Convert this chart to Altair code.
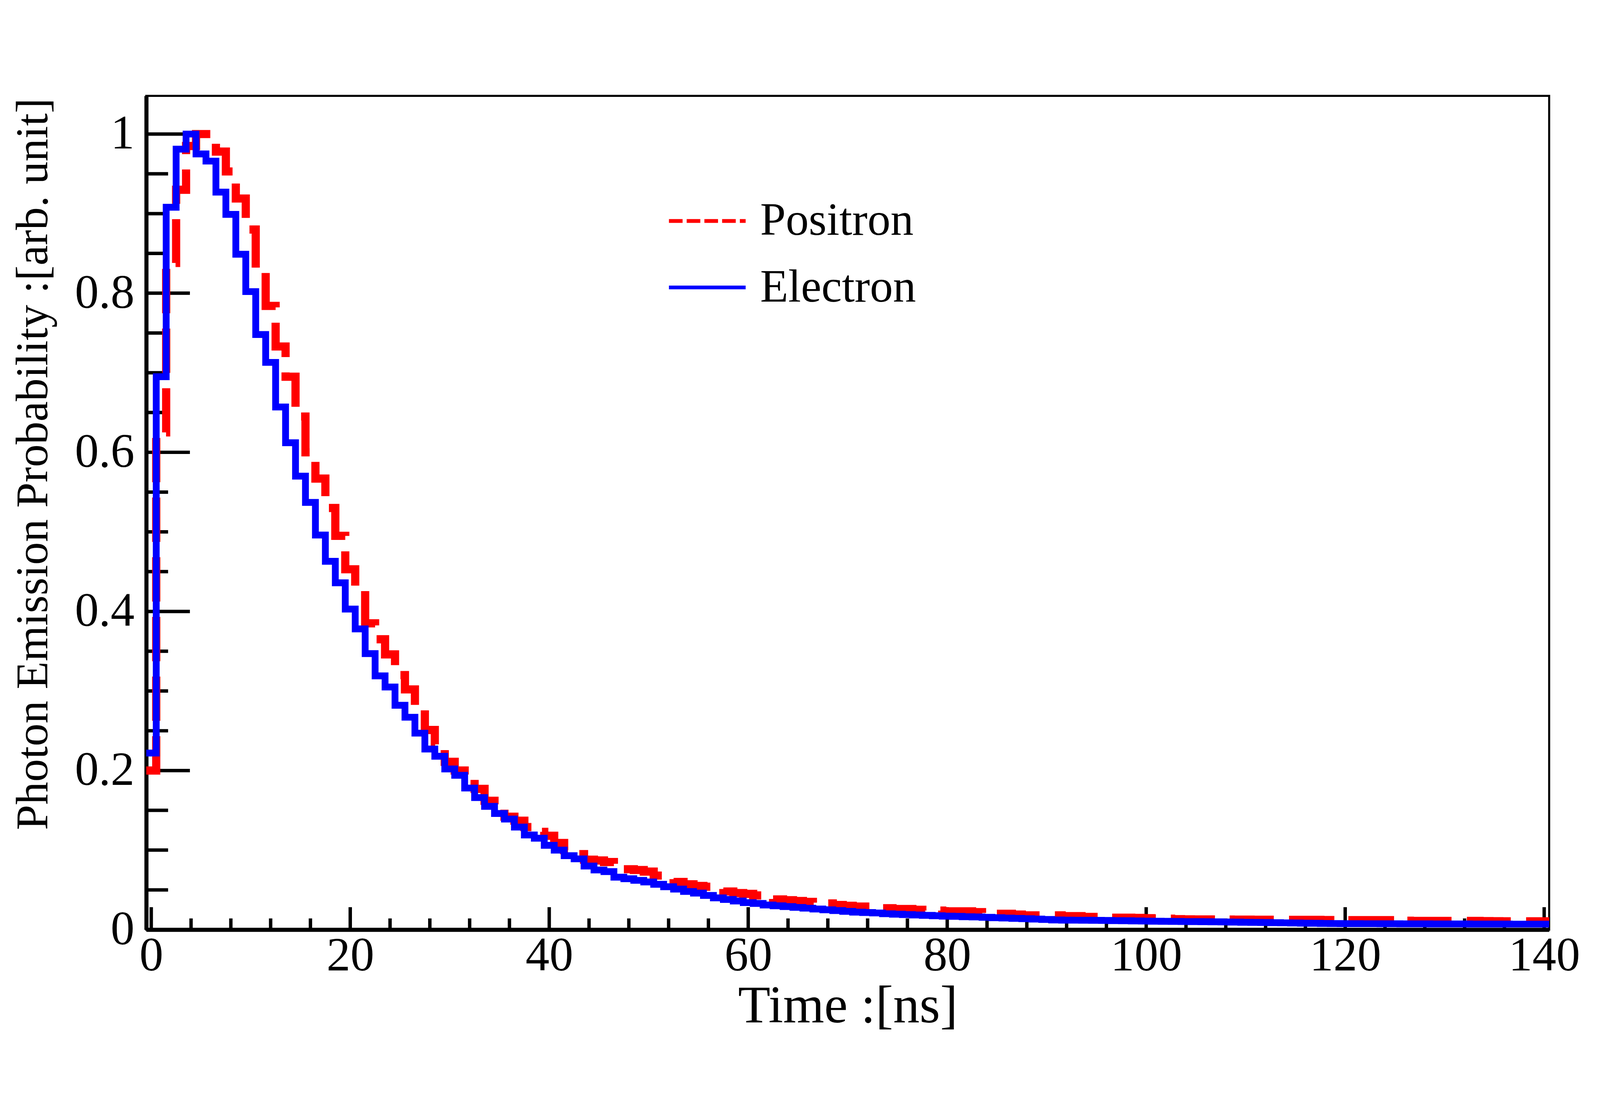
import altair as alt
import pandas as pd

FONT = "Liberation Serif"

SERIES = ["Positron", "Electron"]
COLORS = ["#ff0000", "#0000ff"]
LEGEND_DASHES = [[40, 12], [1, 0]]

# histogram bin centres (ns), bin width 1 ns
BIN_CENTERS = list(range(0, 141))
BIN_WIDTH = 1.0

POSITRON = [
    0.200, 0.625, 0.838, 0.930, 0.985, 1.000, 1.000, 0.978, 0.953, 0.919,
    0.880, 0.827, 0.784, 0.733, 0.695, 0.645, 0.600, 0.567, 0.530, 0.495,
    0.453, 0.426, 0.385, 0.365, 0.346, 0.320, 0.302, 0.282, 0.251, 0.233,
    0.211, 0.200, 0.190, 0.177, 0.162, 0.152, 0.142, 0.137, 0.129, 0.123,
    0.118, 0.109, 0.100, 0.095, 0.088, 0.087, 0.085, 0.080, 0.076, 0.075,
    0.073,
    0.068, 0.064, 0.060, 0.057, 0.055, 0.054, 0.052, 0.048, 0.046, 0.045,
    0.043, 0.040, 0.038, 0.037, 0.036, 0.035, 0.034, 0.033, 0.031, 0.030,
    0.029, 0.029, 0.028, 0.027, 0.026, 0.026, 0.025, 0.024, 0.024, 0.023,
    0.023, 0.023, 0.022, 0.021, 0.020, 0.020, 0.019, 0.018, 0.018, 0.018,
    0.018, 0.017, 0.017, 0.016, 0.016, 0.0155, 0.015, 0.015, 0.0148, 0.0145,
    0.0142, 0.0138, 0.0132, 0.013, 0.0128, 0.0128, 0.0127, 0.0127, 0.0126, 0.0126,
    0.0125, 0.0125, 0.0125, 0.0124, 0.0124, 0.0123, 0.0123, 0.0121, 0.012, 0.012,
    0.012, 0.012, 0.012, 0.012, 0.0115, 0.0112, 0.011, 0.011, 0.011, 0.011,
    0.011, 0.011, 0.011, 0.0108, 0.0106, 0.0105, 0.0105, 0.0105, 0.0105, 0.0105,
]

ELECTRON = [
    0.222, 0.695, 0.908, 0.981, 1.000, 0.975, 0.966, 0.927, 0.899, 0.849,
    0.802, 0.748, 0.713, 0.657, 0.612, 0.570, 0.537, 0.496, 0.463, 0.436,
    0.403, 0.378, 0.347, 0.319, 0.305, 0.282, 0.267, 0.247, 0.227, 0.218,
    0.202, 0.194, 0.178, 0.166, 0.155, 0.146, 0.139, 0.129, 0.119, 0.115,
    0.106, 0.100, 0.093, 0.089, 0.080, 0.075, 0.073, 0.066, 0.064, 0.062,
    0.060,
    0.057, 0.054, 0.051, 0.048, 0.046, 0.043, 0.040, 0.038, 0.036, 0.034,
    0.033, 0.031, 0.030, 0.029, 0.028, 0.027, 0.026, 0.025, 0.024, 0.023,
    0.022, 0.0215, 0.021, 0.020, 0.0195, 0.019, 0.0185, 0.018, 0.0175, 0.017,
    0.0168, 0.0163, 0.016, 0.0155, 0.015, 0.0146, 0.0142, 0.0138, 0.0133, 0.0128,
    0.0122, 0.012, 0.0119, 0.0118, 0.0117, 0.0116, 0.0114, 0.0112, 0.011, 0.0108,
    0.0106, 0.0105, 0.0104, 0.0102, 0.0101, 0.0100, 0.0099, 0.0097, 0.0095, 0.0093,
    0.0091, 0.0090, 0.0088, 0.0086, 0.0084, 0.0082, 0.0080, 0.0078, 0.0077, 0.0076,
    0.0076, 0.0075, 0.0075, 0.0074, 0.0074, 0.0073, 0.0073, 0.0073, 0.0072, 0.0072,
    0.0072, 0.0072, 0.0071, 0.0071, 0.0071, 0.0071, 0.0070, 0.0070, 0.0070, 0.0070,
]

X_MAJOR = [0, 20, 40, 60, 80, 100, 120, 140]
X_MINOR = [4, 8, 12, 16, 24, 28, 32, 36, 44, 48, 52, 56, 64, 68, 72, 76,
           84, 88, 92, 96, 104, 108, 112, 116, 124, 128, 132, 136]
Y_MAJOR = [0, 0.2, 0.4, 0.6, 0.8, 1]
Y_MINOR = [0.05, 0.1, 0.15, 0.25, 0.3, 0.35, 0.45, 0.5, 0.55, 0.65, 0.7, 0.75,
           0.85, 0.9, 0.95]

X_RANGE = [-0.5, 140.5]
Y_RANGE = [0, 1.048]

W, H = 4116, 2446

# ---- build step-histogram table (left bin edges + closing point) ----
rows = []
for name, vals in zip(SERIES, [POSITRON, ELECTRON]):
    for c, v in zip(BIN_CENTERS, vals):
        rows.append({"series": name, "t": c - BIN_WIDTH / 2, "v": v})
    rows.append({"series": name, "t": BIN_CENTERS[-1] + BIN_WIDTH / 2, "v": vals[-1]})
df = pd.DataFrame(rows)

sx = alt.Scale(domain=X_RANGE, nice=False, zero=False)
sy = alt.Scale(domain=Y_RANGE, nice=False, zero=False)

XT = "Time :[ns]"
YT = "Photon Emission Probability :[arb. unit]"

axis_x = alt.Axis(
    values=X_MAJOR, format="d", ticks=False, tickSize=0, grid=False,
    domainWidth=12, domainColor="black",
    labelFont=FONT, labelFontSize=140, labelColor="black", labelPadding=8,
    labelFlush=False, labelOverlap=False, labelBound=False, labelLimit=0,
    title=XT, titleFont=FONT, titleFontSize=155, titleFontWeight="normal",
    titleColor="black", titleBaseline="alphabetic", titleY=271,
)
axis_y = alt.Axis(
    values=Y_MAJOR, labelExpr="format(datum.value, '~g')", ticks=False, tickSize=0,
    grid=False, domainWidth=12, domainColor="black",
    labelFont=FONT, labelFontSize=140, labelColor="black", labelPadding=35,
    labelOverlap=False, labelBound=False, labelFlush=False, labelLimit=0,
    title=YT, titleFont=FONT, titleFontSize=134,
    titleFontWeight="normal", titleColor="black", titleAngle=270,
    titleAlign="right", titleBaseline="middle", titleX=-331, titleY=6,
)

X = alt.X("t:Q", scale=sx, axis=axis_x, title=XT)
Y = alt.Y("v:Q", scale=sy, axis=axis_y, title=YT)

legend = alt.Legend(
    orient="none", legendX=1528, legendY=249, title=None, direction="vertical",
    symbolType="stroke", symbolSize=50625, symbolStrokeWidth=11, symbolOpacity=1,
    labelFont=FONT, labelFontSize=135, labelColor="black", labelOffset=37,
    labelLimit=0, rowPadding=9, padding=0,
)
color = alt.Color("series:N", scale=alt.Scale(domain=SERIES, range=COLORS), legend=legend)
dash = alt.StrokeDash("series:N", scale=alt.Scale(domain=SERIES, range=LEGEND_DASHES), legend=legend)

base = alt.Chart(df).encode(x=X, y=Y, color=color)
red = base.transform_filter(alt.datum.series == "Positron").mark_line(
    interpolate="step-after", strokeWidth=24, strokeDash=[130, 45],
    strokeCap="butt", strokeJoin="miter")
blue = base.transform_filter(alt.datum.series == "Electron").mark_line(
    interpolate="step-after", strokeWidth=20, strokeCap="butt", strokeJoin="miter")
# empty layer that only supplies the dash pattern to the legend
legend_layer = alt.Chart(df).transform_filter("false").mark_line().encode(
    x=X, y=Y, color=color, strokeDash=dash)

# inward ROOT-style ticks
xt_major = alt.Chart(pd.DataFrame({"t": X_MAJOR})).mark_rule(color="black", strokeWidth=10).encode(
    x=alt.X("t:Q", scale=sx, axis=axis_x, title=XT), y=alt.value(H), y2=alt.value(H - 66))
xt_minor = alt.Chart(pd.DataFrame({"t": X_MINOR})).mark_rule(color="black", strokeWidth=10).encode(
    x=alt.X("t:Q", scale=sx, axis=axis_x, title=XT), y=alt.value(H), y2=alt.value(H - 33))
yt_major = alt.Chart(pd.DataFrame({"v": Y_MAJOR})).mark_rule(color="black", strokeWidth=10).encode(
    y=alt.Y("v:Q", scale=sy, axis=axis_y, title=YT), x=alt.value(0), x2=alt.value(128))
yt_minor = alt.Chart(pd.DataFrame({"v": Y_MINOR})).mark_rule(color="black", strokeWidth=10).encode(
    y=alt.Y("v:Q", scale=sy, axis=axis_y, title=YT), x=alt.value(0), x2=alt.value(64))

chart = alt.layer(xt_major, xt_minor, yt_major, yt_minor, red, blue, legend_layer).properties(
    width=W, height=H,
    autosize=alt.AutoSizeParams(type="none"),
    padding={"left": 420, "top": 68, "right": 140, "bottom": 280},
    background="white",
).configure_view(stroke="black", strokeWidth=6, fill="white")

chart.save("out.html", embed_options={"renderer": "svg", "actions": False})
